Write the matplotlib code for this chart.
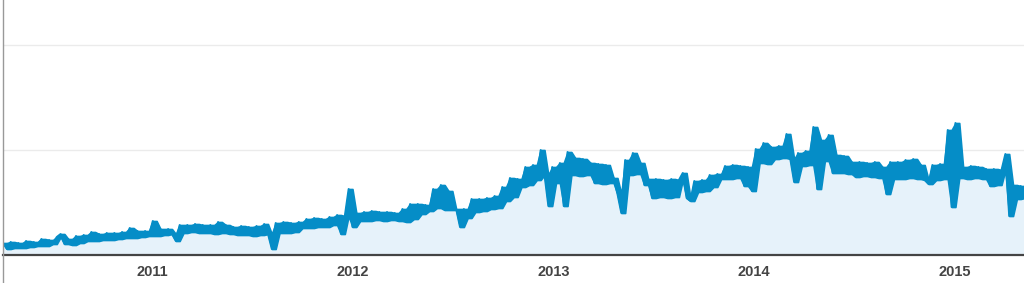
import matplotlib
matplotlib.use("Agg")
import matplotlib.pyplot as plt
from matplotlib.lines import Line2D
import pandas as pd

# Weekly sessions (arbitrary units; gridlines at 105 and 210)
start_date = "2010-04-03"
values = [
    12, 6, 13, 7, 12, 7, 14, 8, 13, 9,
    16, 9, 15, 11, 18, 21, 11, 16, 10, 19,
    12, 20, 14, 23, 14, 21, 15, 22, 15, 22,
    16, 23, 17, 27, 17, 24, 18, 24, 19, 34,
    19, 26, 20, 26, 21, 14, 30, 22, 30, 23,
    31, 22, 30, 22, 30, 21, 33, 22, 30, 21,
    28, 20, 29, 20, 28, 19, 29, 20, 31, 21,
    6, 32, 22, 33, 22, 32, 23, 33, 27, 36,
    27, 37, 28, 36, 28, 38, 30, 40, 21, 39,
    66, 28, 42, 34, 43, 34, 44, 35, 43, 34,
    43, 35, 42, 34, 46, 33, 51, 36, 51, 41,
    50, 44, 66, 47, 70, 45, 64, 45, 46, 28,
    46, 37, 56, 43, 56, 44, 57, 46, 59, 47,
    68, 54, 77, 58, 76, 68, 88, 70, 90, 75,
    105, 80, 49, 88, 72, 92, 49, 103, 80, 97,
    79, 96, 80, 92, 72, 91, 71, 90, 72, 77,
    61, 42, 95, 80, 102, 81, 92, 70, 76, 57,
    76, 58, 75, 57, 76, 58, 75, 82, 57, 54,
    74, 63, 75, 64, 80, 68, 81, 76, 89, 76,
    90, 77, 89, 69, 88, 64, 106, 92, 112, 91,
    108, 96, 109, 97, 121, 96, 73, 102, 89, 104,
    90, 128, 66, 115, 94, 120, 82, 100, 82, 99,
    81, 93, 78, 93, 79, 92, 78, 93, 77, 88,
    61, 93, 76, 93, 76, 95, 77, 96, 76, 90,
    75, 71, 90, 75, 91, 76, 125, 48, 132, 77,
    88, 76, 89, 77, 88, 76, 86, 69, 86, 70,
    85, 101, 39, 70, 56, 69, 57,
]
year_ticks = ["2011-01-01", "2012-01-01", "2013-01-01", "2014-01-01", "2015-01-01"]
year_labels = ["2011", "2012", "2013", "2014", "2015"]
grid_levels = [105, 210]

dates = pd.date_range(start_date, periods=len(values), freq="7D")
series = pd.Series(values, index=dates, dtype=float)
band_hi = series.rolling(2, min_periods=1).max()
band_lo = series.rolling(2, min_periods=1).min()

LINE = "#058DC7"
FILL = "#E6F2FA"

fig = plt.figure(figsize=(10.24, 2.83), dpi=100)
ax = fig.add_axes([3 / 1024, 28 / 283, 1021 / 1024, 255 / 283])

ax.fill_between(dates, series.values, 0, color=FILL, lw=0, zorder=1)
ax.fill_between(dates, band_lo.values, band_hi.values, color=LINE, lw=1.2,
                edgecolor=LINE, zorder=2)
ax.plot(dates, series.values, color=LINE, lw=1.4, zorder=3)

for g in grid_levels:
    ax.axhline(g, color="#EBEBEB", lw=1.0, zorder=0)

ax.set_ylim(0, 255)
ax.set_xlim(pd.Timestamp("2010-04-03"), pd.Timestamp("2015-05-08"))
ax.set_yticks([])
ax.set_xticks(pd.to_datetime(year_ticks))
ax.set_xticklabels(year_labels)
ax.tick_params(axis="x", length=0, pad=7, labelsize=10.5, labelcolor="#444444")
for lbl in ax.get_xticklabels():
    lbl.set_fontfamily("Liberation Sans")
    lbl.set_fontweight("bold")

for s in ["top", "right", "left"]:
    ax.spines[s].set_visible(False)
ax.spines["bottom"].set_color("#444444")
ax.spines["bottom"].set_linewidth(1.6)
ax.spines["bottom"].set_zorder(4)

fig.add_artist(Line2D([3 / 1024, 3 / 1024], [0, 1], transform=fig.transFigure,
                      color="#999999", lw=1.0))

fig.savefig("out.png", dpi=100, facecolor="white")
